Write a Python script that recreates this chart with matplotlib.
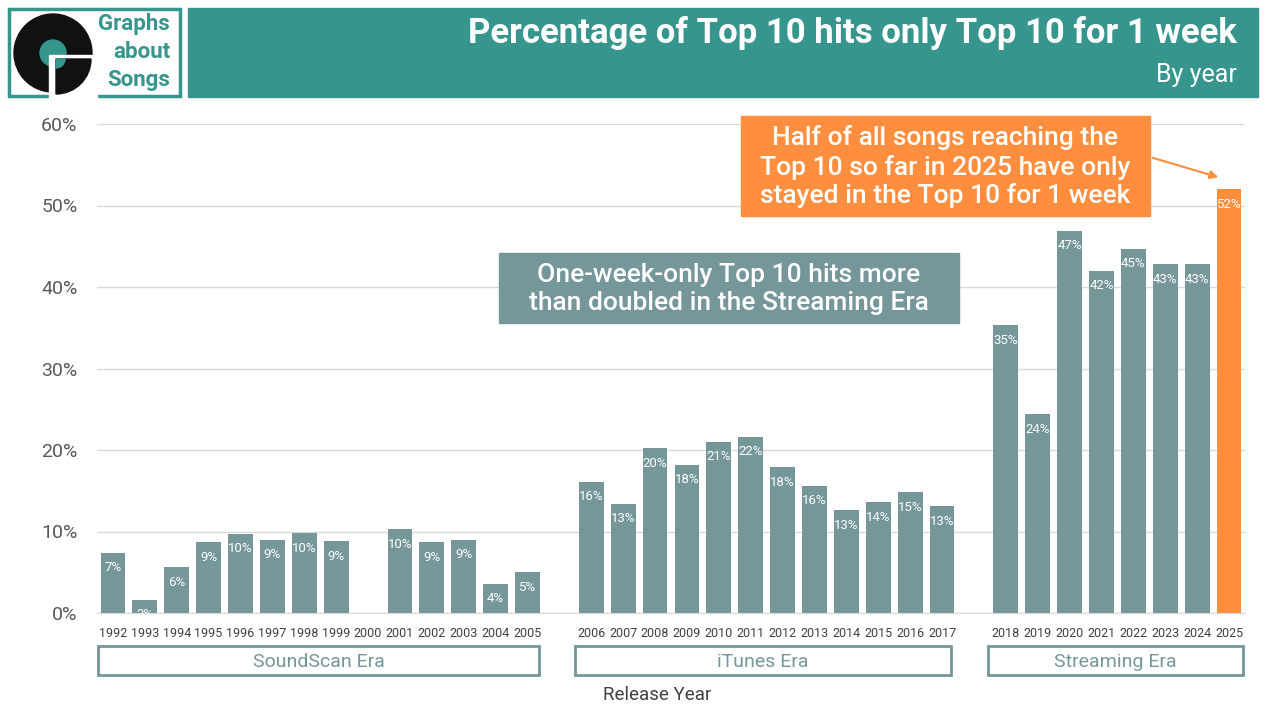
import matplotlib
matplotlib.use('Agg')
from matplotlib import pyplot as plt
from matplotlib import font_manager
from matplotlib.patches import Rectangle, Circle, Wedge, FancyArrowPatch

# values, in percent
years_soundscan = [1992, 1993, 1994, 1995, 1996, 1997, 1998, 1999, 2000,
                   2001, 2002, 2003, 2004, 2005]
pct_soundscan = [7.4, 1.6, 5.6, 8.7, 9.7, 9.0, 9.8, 8.8, 0.0,
                 10.3, 8.7, 9.0, 3.6, 5.0]
years_itunes = [2006, 2007, 2008, 2009, 2010, 2011, 2012, 2013, 2014, 2015,
                2016, 2017]
pct_itunes = [16.1, 13.4, 20.2, 18.2, 21.0, 21.6, 17.9, 15.6, 12.6, 13.6,
              14.8, 13.1]
years_streaming = [2018, 2019, 2020, 2021, 2022, 2023, 2024, 2025]
pct_streaming = [35.3, 24.4, 46.9, 42.0, 44.7, 42.8, 42.8, 52.0]
era_names = ['SoundScan Era', 'iTunes Era', 'Streaming Era']
y_ticks = [0, 10, 20, 30, 40, 50, 60]

TEAL = '#36958c'
BAR = '#76979a'
ORANGE = '#ff8f3f'
DARK = '#404040'

installed = {f.name for f in font_manager.fontManager.ttflist}
NARROW = 'Liberation Sans Narrow' if 'Liberation Sans Narrow' in installed else 'Roboto'
plt.rcParams['font.family'] = ['Roboto', 'DejaVu Sans']


def build_positions():
    xs, years, vals, colors = [], [], [], []
    slot = 0
    for era_years, era_vals in [(years_soundscan, pct_soundscan),
                                (years_itunes, pct_itunes),
                                (years_streaming, pct_streaming)]:
        for y, v in zip(era_years, era_vals):
            xs.append(slot)
            years.append(str(y))
            vals.append(v)
            colors.append(ORANGE if y == 2025 else BAR)
            slot += 1
        slot += 1
    return xs, years, vals, colors


def draw_chart(fig):
    xs, years, vals, colors = build_positions()
    ax = fig.add_axes([97 / 1280, 107 / 720, 1148 / 1280, 489 / 720])
    ax.bar(xs, vals, width=0.78, color=colors, zorder=2)
    for x, v in zip(xs, vals):
        if v > 0:
            ax.annotate('%d%%' % round(v), (x, v), xytext=(0, -15),
                        textcoords='offset pixels', ha='center', va='center',
                        color='white', fontsize=9.5, family=NARROW, zorder=3)
    ax.set_xlim(-0.5, 35.5)
    ax.set_ylim(0, 60)
    ax.set_yticks(y_ticks)
    ax.set_yticklabels(['%d%%' % t for t in y_ticks], fontsize=14, color='#595959')
    ax.set_xticks(xs)
    ax.set_xticklabels(years, fontsize=9, color=DARK, family=NARROW)
    ax.tick_params(axis='y', length=0, pad=14)
    ax.tick_params(axis='x', length=0, pad=10)
    ax.grid(axis='y', color='#d9d9d9', lw=1, zorder=0)
    for side in ['top', 'right', 'left']:
        ax.spines[side].set_visible(False)
    ax.spines['bottom'].set_color('#d9d9d9')
    return ax


def draw_overlay(fig):
    ov = fig.add_axes([0, 0, 1, 1], zorder=5)
    ov.set_xlim(0, 1280)
    ov.set_ylim(720, 0)
    ov.axis('off')
    ov.patch.set_alpha(0)

    # header banner
    ov.add_patch(Rectangle((188, 8), 1070, 89, color=TEAL))
    ov.text(1237, 33, 'Percentage of Top 10 hits only Top 10 for 1 week',
            ha='right', va='center', color='white', fontsize=25, weight='bold')
    ov.text(1237, 75, 'By year', ha='right', va='center', color='white', fontsize=18)

    # logo
    ov.add_patch(Rectangle((9, 9), 171, 87, fc='white', ec=TEAL, lw=2.5))
    ov.add_patch(Circle((53, 53), 39, color='#111111'))
    ov.add_patch(Circle((53, 53), 13, color=TEAL))
    ov.add_patch(Rectangle((49, 55), 48, 45, color='white'))
    ov.add_patch(Wedge((56, 59), 35, 0, 90, color='#111111'))
    ov.add_patch(Wedge((56, 59), 9, 0, 90, color=TEAL))
    for y, word in zip([24, 52, 80], ['Graphs', 'about', 'Songs']):
        ov.text(170, y, word, ha='right', va='center', color=TEAL,
                fontsize=16, weight='bold')

    # era boxes
    for (x0, x1), name in zip([(98, 539), (575, 951), (988, 1243)], era_names):
        ov.add_patch(Rectangle((x0, 646), x1 - x0, 29, fc='none', ec=BAR, lw=2))
        ov.text((x0 + x1) / 2, 662, name, ha='center', va='center',
                color=BAR, fontsize=14)
    ov.text(657, 695, 'Release Year', ha='center', va='center', color=DARK, fontsize=13.5)

    # annotations
    ov.add_patch(Rectangle((499, 253), 460, 70, color=BAR))
    ov.text(729, 289, 'One-week-only Top 10 hits more\nthan doubled in the Streaming Era',
            ha='center', va='center', color='white', fontsize=19, linespacing=1.2,
            weight='medium')
    ov.add_patch(Rectangle((741, 116), 409, 100, color=ORANGE))
    ov.text(945, 167, 'Half of all songs reaching the\nTop 10 so far in 2025 have only\n'
            'stayed in the Top 10 for 1 week',
            ha='center', va='center', color='white', fontsize=19, linespacing=1.2,
            weight='medium')
    ov.add_patch(FancyArrowPatch((1150, 157), (1221, 178), arrowstyle='-|>',
                                 mutation_scale=12, color=ORANGE, lw=1.5))


fig = plt.figure(figsize=(12.8, 7.2), dpi=100)
fig.patch.set_facecolor('white')
draw_chart(fig)
draw_overlay(fig)
fig.savefig('out.png', dpi=100)
